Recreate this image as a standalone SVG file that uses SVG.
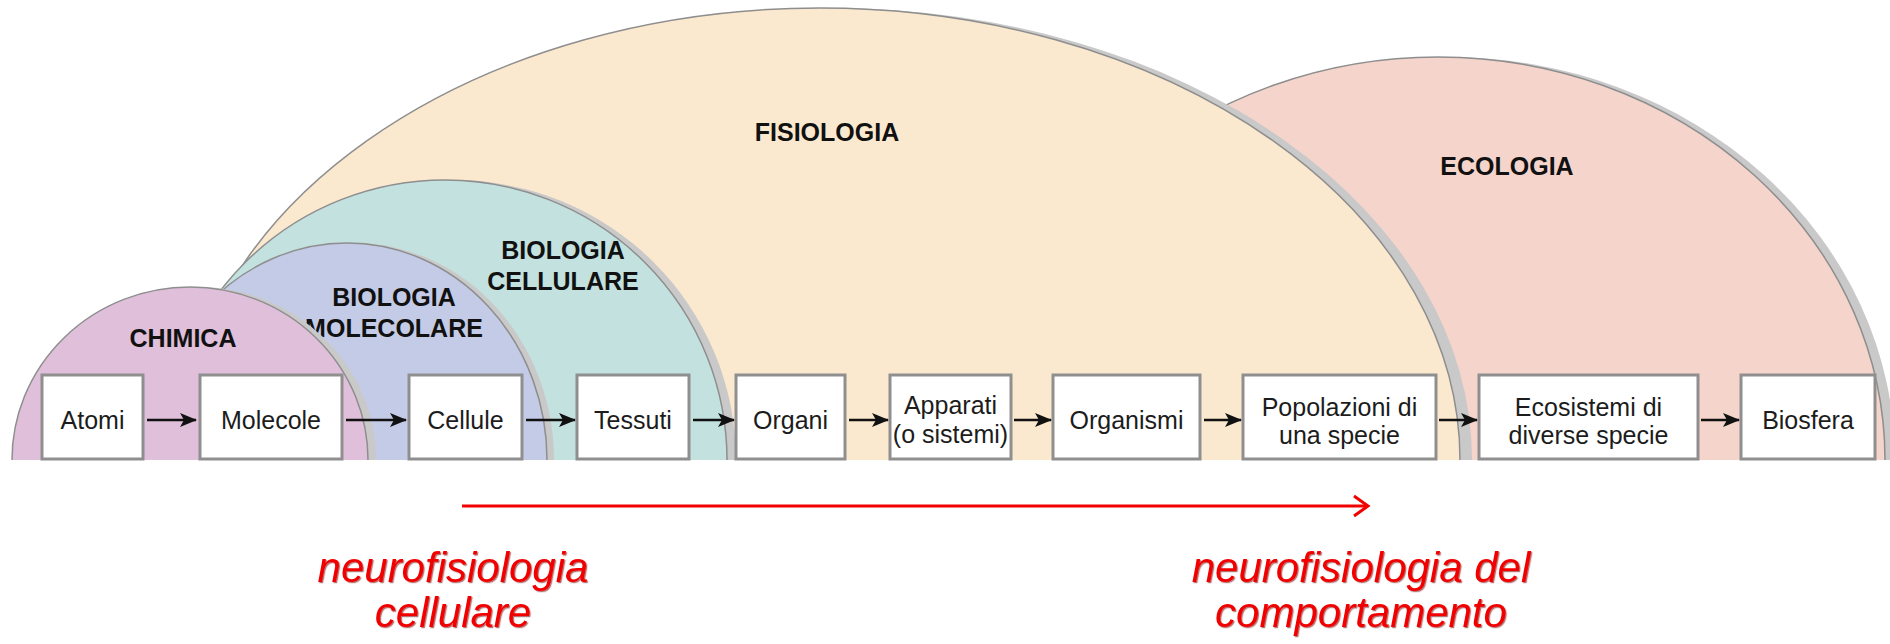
<svg xmlns="http://www.w3.org/2000/svg" width="1890" height="644" viewBox="0 0 1890 644">
  <style>
    .field { stroke: #8e8e8e; stroke-width: 1.5; }
    .shade { fill: #c9c9c9; }
    .area-label { font-family: "Liberation Sans", Arial, sans-serif; font-weight: bold; font-size: 25px; fill: #111; text-anchor: middle; }
    .box { fill: #ffffff; stroke: #8f8f8f; stroke-width: 3; }
    .box-label { font-family: "Liberation Sans", Arial, sans-serif; font-size: 25px; fill: #1c1c1c; text-anchor: middle; }
    .step { stroke: #111; stroke-width: 2.4; fill: none; }
    .scale-label { font-family: "Liberation Sans", Arial, sans-serif; font-style: italic; font-size: 42px; fill: #f20000; text-anchor: middle; }
  </style>
  <defs>
    <clipPath id="ground">
      <rect x="0" y="0" width="1890" height="460"/>
    </clipPath>
    <marker id="head" viewBox="0 0 17 14" refX="16" refY="7" markerWidth="17" markerHeight="14" markerUnits="userSpaceOnUse" orient="auto">
      <path d="M0,0 L17,7 L0,14 L4,7 Z" fill="#111"/>
    </marker>
    <filter id="soft" x="-5%" y="-50%" width="110%" height="300%">
      <feGaussianBlur stdDeviation="2.5"/>
    </filter>
    <filter id="textShadow" x="-5%" y="-20%" width="110%" height="140%">
      <feDropShadow dx="1.2" dy="1.2" stdDeviation="0.6" flood-color="#7a0000" flood-opacity="0.55"/>
    </filter>
  </defs>

  <rect width="1890" height="644" fill="#ffffff"/>

  <!-- nested fields of study, outermost first -->
  <g clip-path="url(#ground)">
    <g id="ecologia">
      <ellipse class="shade" cx="1448" cy="460" rx="447" ry="403"/>
      <ellipse class="field" cx="1438" cy="460" rx="447" ry="403" fill="#f5d5cb"/>
      <text class="area-label" x="1507" y="175">ECOLOGIA</text>
    </g>
    <g id="fisiologia">
      <ellipse class="shade" cx="832" cy="460" rx="640" ry="452"/>
      <ellipse class="field" cx="820" cy="460" rx="640" ry="452" fill="#fbe9cf"/>
      <text class="area-label" x="827" y="141">FISIOLOGIA</text>
    </g>
    <g id="biologia-cellulare">
      <ellipse class="shade" cx="454" cy="460" rx="282" ry="280"/>
      <ellipse class="field" cx="445" cy="460" rx="282" ry="280" fill="#c3e1de"/>
      <text class="area-label" x="563" y="259">BIOLOGIA</text>
      <text class="area-label" x="563" y="290">CELLULARE</text>
    </g>
    <g id="biologia-molecolare">
      <ellipse class="shade" cx="354" cy="460" rx="200" ry="217"/>
      <ellipse class="field" cx="347" cy="460" rx="200" ry="217" fill="#c4cbe7"/>
      <text class="area-label" x="394" y="306">BIOLOGIA</text>
      <text class="area-label" x="394" y="337">MOLECOLARE</text>
    </g>
    <g id="chimica">
      <ellipse class="shade" cx="198" cy="460" rx="178" ry="173"/>
      <ellipse class="field" cx="190" cy="460" rx="178" ry="173" fill="#dfbfda"/>
      <text class="area-label" x="183" y="347">CHIMICA</text>
    </g>
  </g>

  <!-- levels of organisation -->
  <g id="atomi">
    <rect class="box" x="42" y="375" width="101" height="84"/>
    <text class="box-label" x="92.5" y="429">Atomi</text>
  </g>
  <g id="molecole">
    <rect class="box" x="200" y="375" width="142" height="84"/>
    <text class="box-label" x="271" y="429">Molecole</text>
  </g>
  <g id="cellule">
    <rect class="box" x="409" y="375" width="113" height="84"/>
    <text class="box-label" x="465.5" y="429">Cellule</text>
  </g>
  <g id="tessuti">
    <rect class="box" x="577" y="375" width="112" height="84"/>
    <text class="box-label" x="633" y="429">Tessuti</text>
  </g>
  <g id="organi">
    <rect class="box" x="736" y="375" width="109" height="84"/>
    <text class="box-label" x="790.5" y="429">Organi</text>
  </g>
  <g id="apparati">
    <rect class="box" x="890" y="375" width="121" height="84"/>
    <text class="box-label" x="950.5" y="414">Apparati</text>
    <text class="box-label" x="950.5" y="443">(o sistemi)</text>
  </g>
  <g id="organismi">
    <rect class="box" x="1053" y="375" width="147" height="84"/>
    <text class="box-label" x="1126.5" y="429">Organismi</text>
  </g>
  <g id="popolazioni">
    <rect class="box" x="1243" y="375" width="193" height="84"/>
    <text class="box-label" x="1339.5" y="416">Popolazioni di</text>
    <text class="box-label" x="1339.5" y="444">una specie</text>
  </g>
  <g id="ecosistemi">
    <rect class="box" x="1479" y="375" width="219" height="84"/>
    <text class="box-label" x="1588.5" y="416">Ecosistemi di</text>
    <text class="box-label" x="1588.5" y="444">diverse specie</text>
  </g>
  <g id="biosfera">
    <rect class="box" x="1741" y="375" width="134" height="84"/>
    <text class="box-label" x="1808" y="429">Biosfera</text>
  </g>

  <!-- arrows between successive levels -->
  <g id="connectors">
    <line class="step" x1="147" y1="420" x2="196" y2="420" marker-end="url(#head)"/>
    <line class="step" x1="346" y1="420" x2="406" y2="420" marker-end="url(#head)"/>
    <line class="step" x1="526" y1="420" x2="575" y2="420" marker-end="url(#head)"/>
    <line class="step" x1="693" y1="420" x2="734" y2="420" marker-end="url(#head)"/>
    <line class="step" x1="849" y1="420" x2="888" y2="420" marker-end="url(#head)"/>
    <line class="step" x1="1014" y1="420" x2="1051" y2="420" marker-end="url(#head)"/>
    <line class="step" x1="1204" y1="420" x2="1241" y2="420" marker-end="url(#head)"/>
    <line class="step" x1="1439" y1="420" x2="1477" y2="420" marker-end="url(#head)"/>
    <line class="step" x1="1701" y1="420" x2="1739" y2="420" marker-end="url(#head)"/>
  </g>

  <!-- research scale, from cells to behaviour -->
  <g id="scala">
    <g filter="url(#soft)" opacity="0.45">
      <path d="M462,510 H1366" stroke="#555" stroke-width="3" fill="none"/>
    </g>
    <path d="M462,506 H1367" stroke="#f20000" stroke-width="3" fill="none"/>
    <path d="M1354,496 L1368,506 L1354,516" stroke="#f20000" stroke-width="3" fill="none" stroke-linejoin="miter"/>
  </g>
  <g id="neuro-cellulare" filter="url(#textShadow)">
    <text class="scale-label" x="453" y="582">neurofisiologia</text>
    <text class="scale-label" x="453" y="627">cellulare</text>
  </g>
  <g id="neuro-comportamento" filter="url(#textShadow)">
    <text class="scale-label" x="1361" y="582">neurofisiologia del</text>
    <text class="scale-label" x="1361" y="627">comportamento</text>
  </g>
</svg>
